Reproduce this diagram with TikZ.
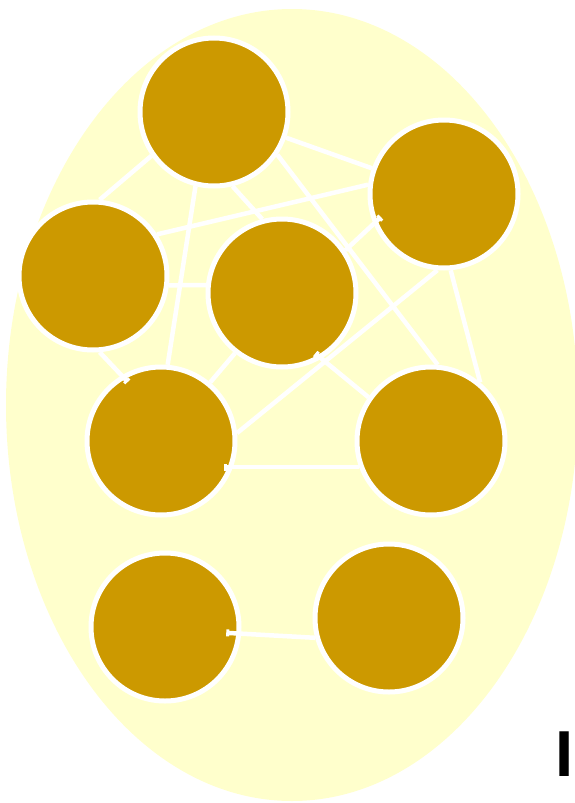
\documentclass[tikz,border=0pt]{standalone}
\usepackage{fontspec}
\setmainfont{Liberation Sans}
\usepackage{xcolor}
\usepackage{tikz}
\usetikzlibrary{positioning, arrows.meta}
\definecolor{paleyellow}{HTML}{FFFFCC}
\definecolor{gold}{HTML}{CC9900}

\begin{document}
\begin{tikzpicture}[
    x=1pt, y=-1pt,
    vertex/.style={draw=white, circle, line width=5pt, fill=gold,
                   minimum size=148pt, inner sep=0pt},
    edge/.style={draw=white, line width=4.5pt},
    tick/.style={edge, -{Bar[width=7pt, line width=3pt]}},
    label/.style={font=\bfseries\fontsize{65}{65}\selectfont, inner sep=0pt},
]
\useasboundingbox (0,0) rectangle (575,803);

% --- Background ---
\fill[paleyellow] (292,405) ellipse [x radius=286pt, y radius=396pt];

% --- Vertices ---
\node[vertex] (a) at (214,112) {};
\node[vertex] (b) at (444,194) {};
\node[vertex] (c) at (93,276) {};
\node[vertex] (d) at (282,293) {};
\node[vertex] (e) at (161,441) {};
\node[vertex] (f) at (431,441) {};
\node[vertex] (g) at (165,627) {};
\node[vertex] (h) at (389,618) {};

% --- Upper component ---
\draw[edge] (a) -- (b);
\draw[edge] (a.215) -- (c.85);
\draw[edge] (a.256) -- (e.85);
\draw[edge] (a.284) -- (d.105);
\draw[edge] (a.-34) -- (f.85);
\draw[edge] (c.33) -- (b.173);
\draw[edge] (c.-7) -- (d.174);
\draw[tick, shorten >=-9pt] (c.-85) -- (e.121);
\draw[tick, shorten >=-10pt] (d.34) -- (b.203);
\draw[edge] (d.232) -- (e.50);
\draw[tick, shorten >=-8pt] (f.145) -- (d.-59);
\draw[edge] (b.265) -- (e.6);
\draw[edge] (b.-85) -- (f.50);
\draw[tick, shorten >=-9pt] (f.200) -- (e.-20);

% --- Lower component ---
\draw[tick, shorten >=-15pt] (h.195) -- (g.-5);

% --- Label ---
\node[label] (tag) at (565,754) {I};
\end{tikzpicture}
\end{document}
